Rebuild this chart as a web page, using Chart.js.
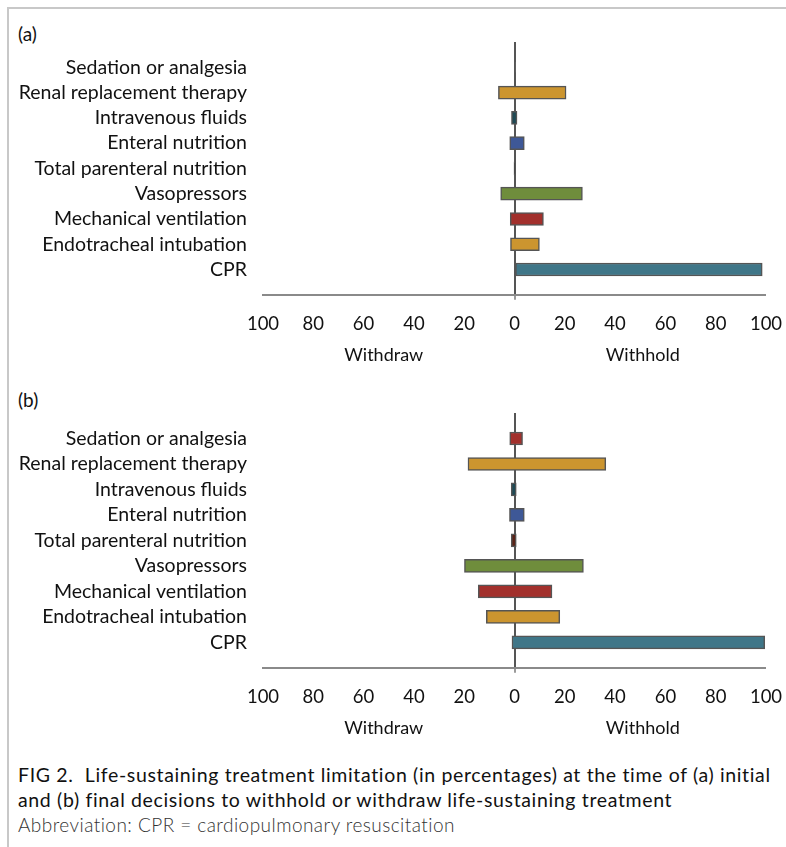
<!DOCTYPE html>
<html lang="en">
<head>
    <meta charset="UTF-8">
    <title>FIG 2. Life-sustaining treatment limitation</title>
    <script src="https://cdn.jsdelivr.net/npm/chart.js"></script>
    <style>
        body {
            margin: 0;
            background: #fff;
            font-family: Lato, "Open Sans", sans-serif;
        }
        #page {
            position: relative;
            width: 786px;
            height: 847px;
            overflow: hidden;
        }
        #frame {
            position: absolute;
            left: 7px;
            top: 7px;
            right: -10px;
            bottom: -10px;
            border-top: 2px solid #c8c8c8;
            border-left: 2px solid #c8c8c8;
        }
        .panel-tag {
            position: absolute;
            left: 18px;
            font-size: 19px;
            color: #111;
        }
        .box {
            position: absolute;
            left: 0;
            width: 786px;
            height: 360px;
        }
        #caption {
            position: absolute;
            left: 18px;
            top: 762px;
            width: 768px;
            font-size: 19.5px;
            letter-spacing: 0.65px;
            line-height: 25px;
            color: #111;
            white-space: nowrap;
        }
        #abbr {
            font-weight: 300;
            font-size: 19px;
            letter-spacing: 0.45px;
            color: #333;
        }
    </style>
</head>
<body>
<div id="page">
    <div id="frame"></div>
    <div class="panel-tag" style="top:22px">(a)</div>
    <div class="box" style="top:20px"><canvas id="chartA"></canvas></div>
    <div class="panel-tag" style="top:388px">(b)</div>
    <div class="box" style="top:390px"><canvas id="chartB"></canvas></div>
    <div id="caption">
        FIG 2.&nbsp; Life-sustaining treatment limitation (in percentages) at the time of (a) initial<br>
        and (b) final decisions to withhold or withdraw life-sustaining treatment<br>
        <span id="abbr">Abbreviation: CPR = cardiopulmonary resuscitation</span>
    </div>
</div>

<script>
    // treatments, top to bottom
    const treatments = [
        'Sedation or analgesia',
        'Renal replacement therapy',
        'Intravenous fluids',
        'Enteral nutrition',
        'Total parenteral nutrition',
        'Vasopressors',
        'Mechanical ventilation',
        'Endotracheal intubation',
        'CPR'
    ];

    // (a) initial decisions, percentages
    const withdrawA = [0, 6.4, 1.2, 1.9, 0.2, 5.5, 1.7, 1.6, 0];
    const withholdA = [0.4, 20.5, 1.0, 3.9, 0.2, 27, 11.5, 9.9, 98.5];

    // (b) final decisions, percentages
    const withdrawB = [1.9, 18.5, 1.3, 2.0, 1.3, 19.9, 14.4, 11.2, 1.0];
    const withholdB = [3.2, 36.3, 0.7, 3.9, 0.7, 27.4, 14.9, 18.0, 99.5];

    // bar fill per treatment
    const colorsA = ['#6b6b6b', '#cc952f', '#1f4a55', '#3e5897', '#444444', '#6f8d3c', '#a2302c', '#cc952f', '#3f7688'];
    const colorsB = ['#a2302c', '#cc952f', '#1f4a55', '#3e5897', '#5a2418', '#6f8d3c', '#a2302c', '#cc952f', '#3f7688'];

    const xTicks = [-100, -80, -60, -40, -20, 0, 20, 40, 60, 80, 100];

    const FONT = 'Lato, "Open Sans", sans-serif';

    // writes "Withdraw" / "Withhold" under the x axis
    const sideLabels = {
        id: 'sideLabels',
        afterDraw(chart) {
            const x = chart.scales.x;
            const c = chart.ctx;
            c.save();
            c.font = '18px ' + FONT;
            c.fillStyle = '#111';
            c.textAlign = 'center';
            c.textBaseline = 'middle';
            const y = x.top + 60;
            c.fillText('Withdraw', x.getPixelForValue(-52), y);
            c.fillText('Withhold', x.getPixelForValue(51), y);
            c.restore();
        }
    };

    function makeChart(id, withdraw, withhold, colors, padTop, padBottom) {
        const data = treatments.map((t, i) => ({ y: i, x: [-withdraw[i], withhold[i]] }));
        new Chart(document.getElementById(id), {
            type: 'bar',
            data: {
                datasets: [{
                    data: data,
                    backgroundColor: colors,
                    borderColor: '#555',
                    borderWidth: 1.5,
                    borderSkipped: false,
                    barThickness: 13
                }]
            },
            options: {
                indexAxis: 'y',
                responsive: true,
                maintainAspectRatio: false,
                animation: false,
                layout: { padding: { left: 8, right: 20, top: padTop, bottom: padBottom } },
                plugins: { legend: { display: false }, tooltip: { enabled: false } },
                scales: {
                    x: {
                        type: 'linear',
                        min: -100,
                        max: 100,
                        afterBuildTicks: s => { s.ticks = xTicks.map(v => ({ value: v })); },
                        afterFit: s => { s.paddingLeft = 0; s.paddingRight = 0; },
                        border: { display: true, color: '#8a8a8a', width: 2 },
                        grid: {
                            color: c => c.tick && c.tick.value === 0 ? '#555' : 'rgba(0,0,0,0)',
                            lineWidth: c => c.tick && c.tick.value === 0 ? 2 : 0,
                            tickColor: '#9a9a9a',
                            tickLength: 5,
                            drawTicks: true
                        },
                        ticks: {
                            color: '#111',
                            padding: 13,
                            maxRotation: 0,
                            font: { family: FONT, size: 18.5 },
                            callback: v => Math.abs(v)
                        }
                    },
                    y: {
                        type: 'linear',
                        reverse: true,
                        offset: false,
                        min: -1,
                        max: 9,
                        afterBuildTicks: s => { s.ticks = treatments.map((t, i) => ({ value: i })); },
                        afterFit: s => { s.width = 255; },
                        border: { display: false },
                        grid: { display: false, offset: false },
                        ticks: {
                            color: '#111',
                            padding: 8,
                            font: { family: FONT, size: 19.5 },
                            callback: v => treatments[v]
                        }
                    }
                }
            },
            plugins: [sideLabels]
        });
    }

    makeChart('chartA', withdrawA, withholdA, colorsA, 22, 32);
    makeChart('chartB', withdrawB, withholdB, colorsB, 23, 29);
</script>
</body>
</html>
